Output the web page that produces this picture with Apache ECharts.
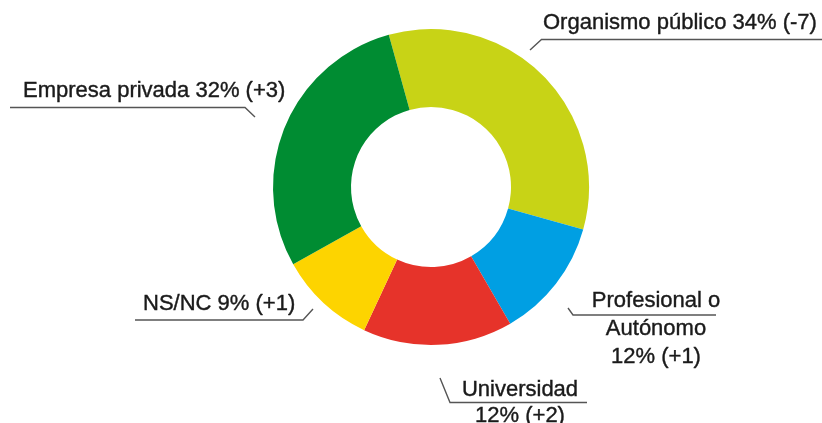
<!DOCTYPE html>
<html>
<head>
<meta charset="utf-8">
<script src="https://cdn.jsdelivr.net/npm/echarts@6/dist/echarts.min.js"></script>
<style>
html,body{margin:0;padding:0;background:#fff;}
#chart{width:822px;height:423px;}
</style>
</head>
<body>
<div id="chart"></div>
<script>
// Data
const categories = ['Organismo público', 'Profesional o\nAutónomo', 'Universidad', 'NS/NC', 'Empresa privada'];
const shares = [33.6, 12.3, 15.3, 9.9, 28.8];   // slice sizes as drawn
const labelPct = [34, 12, 12, 9, 32];            // percentages printed in labels
const changes = ['-7', '+1', '+2', '+1', '+3'];
const colors = ['#C8D316', '#009FE3', '#E6332A', '#FDD400', '#008C32'];

// Label placement (layout only)
const labelPos = [
  {x: 543, y: 36.5, align: 'left', va: 'bottom', lh: 28, pts: [[530, 50], [541.5, 39.5], [822, 39.5]]},
  {x: 656, y: 286.5, align: 'center', va: 'top', lh: 28, pts: [[568, 308], [573, 315], [716, 315]]},
  {x: 520, y: 377, align: 'center', va: 'top', lh: 26, pts: [[440, 378], [450, 402.5], [587, 402.5]]},
  {x: 143, y: 318, align: 'left', va: 'bottom', lh: 28, pts: [[313, 309], [303, 320], [135, 320]]},
  {x: 23, y: 104.5, align: 'left', va: 'bottom', lh: 28, pts: [[255, 117], [245, 107.5], [10, 107.5]]}
];

const data = categories.map((name, i) => ({
  name: name,
  value: shares[i],
  itemStyle: {color: colors[i]},
  label: {lineHeight: labelPos[i].lh}
}));

const chart = echarts.init(document.getElementById('chart'));
chart.setOption({
  animation: false,
  series: [{
    type: 'pie',
    center: [431, 187],
    radius: [80, 158],
    startAngle: 105.5,
    clockwise: true,
    avoidLabelOverlap: false,
    data: data,
    label: {
      show: true,
      position: 'outside',
      fontFamily: 'Liberation Sans, Arial, sans-serif',
      fontSize: 22,
      lineHeight: 28,
      color: '#1a1a1a',
      textBorderColor: '#1a1a1a',
      textBorderWidth: 0.4,
      formatter: function (p) {
        const i = p.dataIndex;
        const sep = (i === 1 || i === 2) ? '\n' : ' ';
        return p.name + sep + labelPct[i] + '% (' + changes[i] + ')';
      }
    },
    labelLine: {
      show: true,
      smooth: false,
      lineStyle: {color: '#555555', width: 1.4}
    },
    emphasis: {disabled: true},
    labelLayout: function (params) {
      const L = labelPos[params.dataIndex];
      return {
        x: L.x,
        y: L.y,
        align: L.align,
        verticalAlign: L.va,
        labelLinePoints: L.pts
      };
    }
  }]
});
</script>
</body>
</html>
